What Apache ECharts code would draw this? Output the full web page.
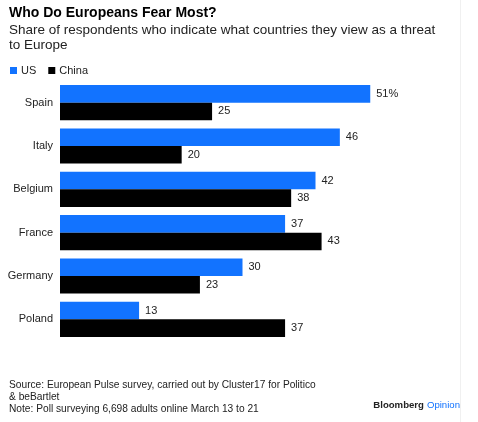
<!DOCTYPE html>
<html>
<head>
<meta charset="utf-8">
<script src="https://cdn.jsdelivr.net/npm/echarts@6/dist/echarts.min.js"></script>
<style>
  html, body { margin: 0; padding: 0; background: #fff; }
  #chart { width: 478px; height: 422px; }
</style>
</head>
<body>
<div id="chart"></div>
<script>
// countries, top to bottom
let countries = ['Spain', 'Italy', 'Belgium', 'France', 'Germany', 'Poland'];

// share of respondents (%)
let usValues = [51, 46, 42, 37, 30, 13];
let chinaValues = [25, 20, 38, 43, 23, 37];

let seriesNames = ['US', 'China'];

const font = '"Liberation Sans", Arial, sans-serif';
const blue = '#1273ff';

let chart = echarts.init(document.getElementById('chart'), null, { renderer: 'canvas' });

// value labels, only the first bar carries the % sign
function labelFmt(p) {
  return p.dataIndex === 0 && p.seriesIndex === 0 ? p.value + '%' : String(p.value);
}

let option = {
  backgroundColor: '#ffffff',
  animation: false,
  textStyle: { fontFamily: font },

  title: [
    {
      text: 'Who Do Europeans Fear Most?',
      left: 9, top: 6, padding: 0,
      textStyle: { fontFamily: font, fontSize: 14, fontWeight: 'bold', color: '#000' }
    },
    {
      text: 'Share of respondents who indicate what countries they view as a threat\nto Europe',
      left: 9, top: 23, padding: 0,
      textStyle: { fontFamily: font, fontSize: 13.5, fontWeight: 'normal', color: '#222', lineHeight: 15 }
    },
    {
      text: 'Source: European Pulse survey, carried out by Cluster17 for Politico\n& beBartlet\nNote: Poll surveying 6,698 adults online March 13 to 21',
      left: 9, top: 379, padding: 0,
      textStyle: { fontFamily: font, fontSize: 10.2, fontWeight: 'normal', color: '#222', lineHeight: 12 }
    },
    {
      text: '{b|Bloomberg}{o|Opinion}',
      right: 18, top: 400, padding: 0,
      textStyle: {
        rich: {
          b: { fontFamily: font, fontSize: 9.6, fontWeight: 'bold', color: '#222' },
          o: { fontFamily: font, fontSize: 9.6, fontWeight: 'normal', color: blue, padding: [0, 0, 0, 3] }
        }
      }
    }
  ],

  legend: {
    left: 10, top: 65, padding: 0,
    icon: 'rect',
    itemWidth: 7, itemHeight: 7,
    itemGap: 12,
    textStyle: { fontFamily: font, fontSize: 11, color: '#222', padding: [0, 0, 0, -1] },
    data: seriesNames
  },

  grid: { left: 60, right: 53, top: 81, bottom: 81, containLabel: false },

  xAxis: {
    type: 'value',
    min: 0, max: 60,
    show: false
  },

  yAxis: {
    type: 'category',
    data: countries,
    inverse: true,
    axisLine: { show: false },
    axisTick: { show: false },
    axisLabel: { margin: 7, fontFamily: font, fontSize: 11, color: '#222' }
  },

  series: [
    {
      name: seriesNames[0],
      type: 'bar',
      data: usValues,
      itemStyle: { color: blue },
      barGap: '0%',
      barCategoryGap: '19%',
      label: { show: true, position: 'right', distance: 6, fontFamily: font, fontSize: 11, color: '#222', formatter: labelFmt }
    },
    {
      name: seriesNames[1],
      type: 'bar',
      data: chinaValues,
      itemStyle: { color: '#000' },
      barGap: '0%',
      barCategoryGap: '19%',
      label: { show: true, position: 'right', distance: 6, fontFamily: font, fontSize: 11, color: '#222', formatter: labelFmt }
    }
  ],

  // faint frame edge on the right
  graphic: [
    { type: 'line', shape: { x1: 460.5, y1: 0, x2: 460.5, y2: 422 }, style: { stroke: '#f0f0f0', lineWidth: 1 } }
  ]
};

chart.setOption(option);
</script>
</body>
</html>
